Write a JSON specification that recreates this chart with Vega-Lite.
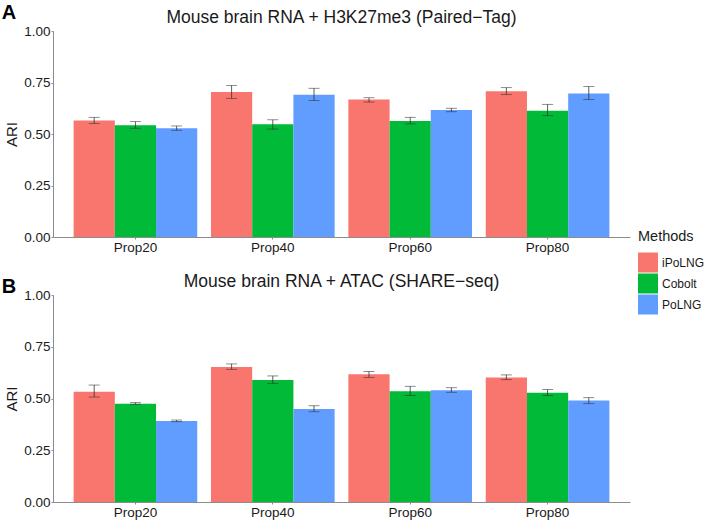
{
  "$schema": "https://vega.github.io/schema/vega-lite/v6.json",
  "background": "white",
  "padding": {"left": 1, "top": 2, "right": 2, "bottom": 2},
  "config": {
    "font": "Liberation Sans",
    "view": {"stroke": null},
    "axis": {
      "grid": false,
      "domainColor": "#8c8c8c",
      "domainWidth": 1,
      "tickColor": "#8c8c8c",
      "tickSize": 2,
      "labelColor": "#1a1a1a",
      "labelFontSize": 13.5,
      "labelPadding": 1,
      "titleFontSize": 15,
      "titleFontWeight": "normal",
      "titleColor": "#1a1a1a",
      "titlePadding": 4
    },
    "title": {"fontSize": 17.5, "fontWeight": "normal", "color": "#1a1a1a", "anchor": "middle", "offset": -2},
    "legend": {
      "titleFontSize": 14.5,
      "titleFontWeight": "normal",
      "titleColor": "#1a1a1a",
      "labelFontSize": 12,
      "labelColor": "#1a1a1a",
      "symbolType": "square",
      "symbolSize": 400,
      "symbolStrokeWidth": 0,
      "symbolOpacity": 1,
      "rowPadding": 1,
      "titlePadding": 8
    }
  },
  "datasets": {
    "ari": [
      {"panel": "A", "prop": "Prop20", "method": "iPoLNG", "ari": 0.565, "lo": 0.551, "hi": 0.581},
      {"panel": "A", "prop": "Prop20", "method": "Cobolt", "ari": 0.542, "lo": 0.528, "hi": 0.560},
      {"panel": "A", "prop": "Prop20", "method": "PoLNG", "ari": 0.528, "lo": 0.518, "hi": 0.539},
      {"panel": "A", "prop": "Prop40", "method": "iPoLNG", "ari": 0.704, "lo": 0.673, "hi": 0.736},
      {"panel": "A", "prop": "Prop40", "method": "Cobolt", "ari": 0.547, "lo": 0.524, "hi": 0.569},
      {"panel": "A", "prop": "Prop40", "method": "PoLNG", "ari": 0.691, "lo": 0.662, "hi": 0.722},
      {"panel": "A", "prop": "Prop60", "method": "iPoLNG", "ari": 0.667, "lo": 0.655, "hi": 0.676},
      {"panel": "A", "prop": "Prop60", "method": "Cobolt", "ari": 0.563, "lo": 0.549, "hi": 0.581},
      {"panel": "A", "prop": "Prop60", "method": "PoLNG", "ari": 0.617, "lo": 0.608, "hi": 0.625},
      {"panel": "A", "prop": "Prop80", "method": "iPoLNG", "ari": 0.707, "lo": 0.691, "hi": 0.725},
      {"panel": "A", "prop": "Prop80", "method": "Cobolt", "ari": 0.613, "lo": 0.589, "hi": 0.644},
      {"panel": "A", "prop": "Prop80", "method": "PoLNG", "ari": 0.697, "lo": 0.668, "hi": 0.730},
      {"panel": "B", "prop": "Prop20", "method": "iPoLNG", "ari": 0.533, "lo": 0.507, "hi": 0.565},
      {"panel": "B", "prop": "Prop20", "method": "Cobolt", "ari": 0.475, "lo": 0.472, "hi": 0.480},
      {"panel": "B", "prop": "Prop20", "method": "PoLNG", "ari": 0.391, "lo": 0.388, "hi": 0.396},
      {"panel": "B", "prop": "Prop40", "method": "iPoLNG", "ari": 0.652, "lo": 0.641, "hi": 0.667},
      {"panel": "B", "prop": "Prop40", "method": "Cobolt", "ari": 0.589, "lo": 0.573, "hi": 0.609},
      {"panel": "B", "prop": "Prop40", "method": "PoLNG", "ari": 0.449, "lo": 0.436, "hi": 0.465},
      {"panel": "B", "prop": "Prop60", "method": "iPoLNG", "ari": 0.617, "lo": 0.602, "hi": 0.630},
      {"panel": "B", "prop": "Prop60", "method": "Cobolt", "ari": 0.535, "lo": 0.514, "hi": 0.559},
      {"panel": "B", "prop": "Prop60", "method": "PoLNG", "ari": 0.540, "lo": 0.530, "hi": 0.552},
      {"panel": "B", "prop": "Prop80", "method": "iPoLNG", "ari": 0.602, "lo": 0.591, "hi": 0.614},
      {"panel": "B", "prop": "Prop80", "method": "Cobolt", "ari": 0.528, "lo": 0.514, "hi": 0.543},
      {"panel": "B", "prop": "Prop80", "method": "PoLNG", "ari": 0.490, "lo": 0.475, "hi": 0.504}
    ]
  },
  "resolve": {"scale": {"color": "shared"}, "legend": {"color": "shared"}},
  "spacing": 18,
  "vconcat": [
    {
      "title": {"text": "A", "anchor": "start", "frame": "bounds", "fontSize": 20, "fontWeight": "bold", "color": "black", "offset": -14, "dx": -3},
      "vconcat": [
        {
          "width": 577,
          "height": 206,
          "title": {"text": "Mouse brain RNA + H3K27me3 (Paired−Tag)"},
          "data": {"name": "ari"},
          "transform": [{"filter": "datum.panel == 'A'"}],
          "encoding": {
            "x": {"field": "prop", "type": "nominal", "title": null, "scale": {"paddingInner": 0.1, "paddingOuter": 0.15}, "axis": {"labelAngle": 0}},
            "xOffset": {"field": "method", "type": "nominal", "sort": ["iPoLNG", "Cobolt", "PoLNG"], "scale": {"paddingInner": 0, "paddingOuter": 0}}
          },
          "layer": [
            {
              "mark": {"type": "bar"},
              "encoding": {
                "y": {"field": "ari", "type": "quantitative", "title": "ARI", "scale": {"domain": [0, 1]}, "axis": {"values": [0, 0.25, 0.5, 0.75, 1], "format": ".2f"}},
                "color": {"field": "method", "type": "nominal", "title": "Methods", "sort": ["iPoLNG", "Cobolt", "PoLNG"], "scale": {"domain": ["iPoLNG", "Cobolt", "PoLNG"], "range": ["#F8766D", "#00BA38", "#619CFF"]}, "legend": {"orient": "none", "legendX": 585, "legendY": 199}}
              }
            },
            {
              "mark": {"type": "rule", "color": "#333333", "strokeWidth": 0.8},
              "encoding": {"y": {"field": "lo", "type": "quantitative", "title": "ARI"}, "y2": {"field": "hi"}}
            },
            {
              "mark": {"type": "tick", "color": "#333333", "size": 11, "thickness": 0.8},
              "encoding": {"y": {"field": "lo", "type": "quantitative", "title": "ARI"}}
            },
            {
              "mark": {"type": "tick", "color": "#333333", "size": 11, "thickness": 0.8},
              "encoding": {"y": {"field": "hi", "type": "quantitative", "title": "ARI"}}
            }
          ]
        }
      ]
    },
    {
      "title": {"text": "B", "anchor": "start", "frame": "bounds", "fontSize": 20, "fontWeight": "bold", "color": "black", "offset": -24, "dx": -3},
      "vconcat": [
        {
          "width": 577,
          "height": 207,
          "title": {"text": "Mouse brain RNA + ATAC (SHARE−seq)"},
          "data": {"name": "ari"},
          "transform": [{"filter": "datum.panel == 'B'"}],
          "encoding": {
            "x": {"field": "prop", "type": "nominal", "title": null, "scale": {"paddingInner": 0.1, "paddingOuter": 0.15}, "axis": {"labelAngle": 0}},
            "xOffset": {"field": "method", "type": "nominal", "sort": ["iPoLNG", "Cobolt", "PoLNG"], "scale": {"paddingInner": 0, "paddingOuter": 0}}
          },
          "layer": [
            {
              "mark": {"type": "bar"},
              "encoding": {
                "y": {"field": "ari", "type": "quantitative", "title": "ARI", "scale": {"domain": [0, 1]}, "axis": {"values": [0, 0.25, 0.5, 0.75, 1], "format": ".2f"}},
                "color": {"field": "method", "type": "nominal", "title": "Methods", "sort": ["iPoLNG", "Cobolt", "PoLNG"], "scale": {"domain": ["iPoLNG", "Cobolt", "PoLNG"], "range": ["#F8766D", "#00BA38", "#619CFF"]}, "legend": {"orient": "none", "legendX": 585, "legendY": 199}}
              }
            },
            {
              "mark": {"type": "rule", "color": "#333333", "strokeWidth": 0.8},
              "encoding": {"y": {"field": "lo", "type": "quantitative", "title": "ARI"}, "y2": {"field": "hi"}}
            },
            {
              "mark": {"type": "tick", "color": "#333333", "size": 11, "thickness": 0.8},
              "encoding": {"y": {"field": "lo", "type": "quantitative", "title": "ARI"}}
            },
            {
              "mark": {"type": "tick", "color": "#333333", "size": 11, "thickness": 0.8},
              "encoding": {"y": {"field": "hi", "type": "quantitative", "title": "ARI"}}
            }
          ]
        }
      ]
    }
  ]
}
